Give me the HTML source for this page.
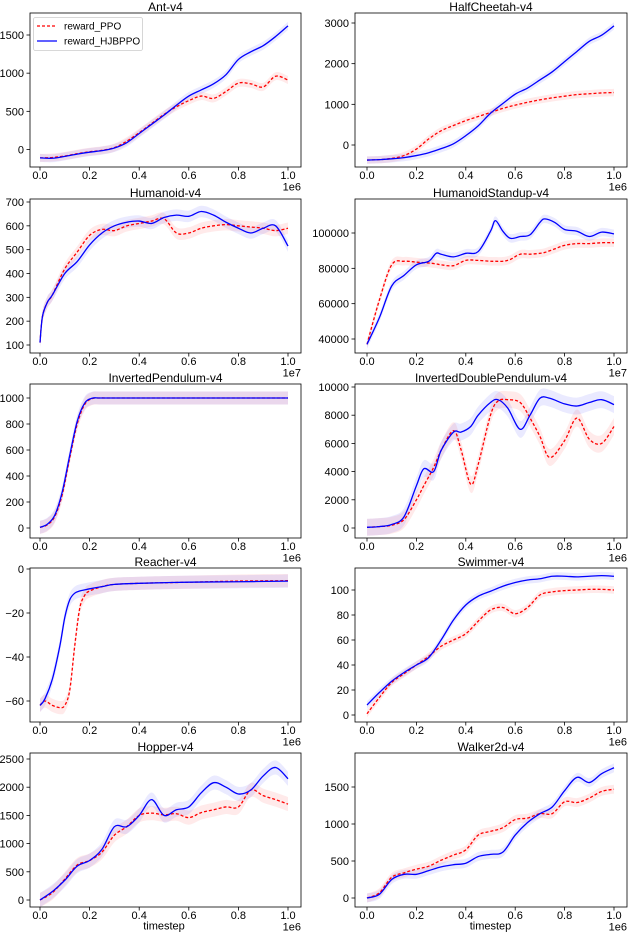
<!DOCTYPE html>
<html><head><meta charset="utf-8">
<style>
html,body{margin:0;padding:0;background:#fff;}
svg{display:block;font-family:"Liberation Sans","DejaVu Sans",sans-serif;}
</style></head>
<body>
<svg id="fig" width="628" height="932" viewBox="0 0 628 932" xmlns="http://www.w3.org/2000/svg"></svg>
<script>
// ---- data ----
const titles = ["Ant-v4","HalfCheetah-v4","Humanoid-v4","HumanoidStandup-v4","InvertedPendulum-v4","InvertedDoublePendulum-v4","Reacher-v4","Swimmer-v4","Hopper-v4","Walker2d-v4"];
const xStd = [0,.05,.1,.15,.2,.25,.3,.35,.4,.45,.5,.55,.6,.65,.7,.75,.8,.85,.9,.95,1];
const xHum = [0,.01,.03,.05,.1,.15,.2,.25,.3,.35,.4,.45,.5,.55,.6,.65,.7,.75,.8,.85,.9,.95,1];
const xStand = [0,.05,.1,.15,.2,.25,.28,.3,.35,.4,.45,.5,.52,.55,.58,.62,.66,.7,.72,.76,.8,.85,.9,.95,1];
const xIP = [0,.03,.06,.09,.12,.15,.18,.21,.24,.3,.5,.7,1];
const xIDP = [0,.05,.1,.15,.2,.23,.27,.3,.35,.38,.42,.45,.5,.53,.57,.62,.66,.7,.74,.8,.85,.9,.95,1];
const xReach = [0,.02,.05,.08,.1,.12,.14,.16,.18,.2,.25,.3,.4,.6,.8,1];

const antPPO = [-110,-105,-85,-55,-30,-10,25,110,220,340,460,560,640,700,670,760,870,860,820,960,910];
const antHJB = [-110,-115,-90,-60,-35,-15,20,90,210,330,450,580,700,780,860,980,1180,1280,1360,1480,1620];
const hcPPO = [-370,-360,-330,-260,-100,150,350,480,600,700,800,900,980,1050,1110,1160,1200,1240,1260,1280,1290];
const hcHJB = [-370,-360,-340,-310,-260,-190,-90,30,230,470,780,1020,1250,1400,1600,1800,2050,2300,2550,2700,2930];
const humPPO = [110,220,280,310,420,490,560,585,580,600,610,620,630,570,570,590,600,605,600,595,590,580,590];
const humHJB = [110,220,280,310,400,450,520,570,600,615,620,610,635,645,640,660,645,615,590,570,590,600,515];
const stPPO = [37000,62000,82000,84000,83500,83000,82500,82000,81500,84500,84500,84000,84000,84000,85000,88000,88000,88500,89000,91000,93000,94000,94000,94500,94500];
const stHJB = [37000,52000,70000,76000,82000,84000,88500,88000,86500,88500,89500,101000,107000,101000,97000,98000,99000,106000,108000,106000,102000,101000,98000,100500,99500];
const ipPPO = [5,25,90,260,540,800,950,995,1000,1000,1000,1000,1000];
const ipHJB = [5,30,100,280,560,820,960,998,1000,1000,1000,1000,1000];
const idpPPO = [50,100,200,600,2000,3000,4300,5500,6900,5600,3100,4500,8000,9000,9100,8900,7800,6500,5000,6200,7800,6300,6000,7200];
const idpHJB = [50,100,250,800,3000,4200,4000,5500,6800,6800,7200,8000,8900,9100,8500,7000,8000,9200,9200,8800,8650,8900,9100,8750];
const rePPO = [-62,-60,-62,-63,-62,-55,-35,-18,-12,-10,-8,-7,-6.5,-6,-5.5,-5.3];
const reHJB = [-62,-59,-50,-35,-22,-14,-11,-10,-9.5,-9,-8,-7,-6.5,-6,-5.8,-5.5];
const swPPO = [1,14,26,33,40,47,55,60,65,75,84,86,81,86,96,98.5,99.5,100,100.5,100.5,100];
const swHJB = [8,18,27,34,40,46,60,76,88,95,99,103,106,108,109,111,111,110.5,111,111.5,111];
const hoPPO = [0,130,370,620,700,850,1150,1300,1500,1540,1510,1530,1460,1550,1600,1650,1650,1950,1850,1780,1700];
const hoHJB = [0,150,350,600,700,900,1300,1300,1500,1780,1500,1600,1650,1900,2080,2000,1880,1950,2200,2350,2150];
const waPPO = [0,70,280,340,390,430,510,580,650,850,900,950,1060,1080,1140,1140,1300,1290,1350,1440,1470];
const waHJB = [0,50,250,320,320,370,420,450,470,560,590,620,850,1020,1140,1230,1450,1630,1560,1680,1760];

const yTicks = [[0,500,1000,1500],[0,1000,2000,3000],[100,200,300,400,500,600,700],[40000,60000,80000,100000],[0,200,400,600,800,1000],[0,2000,4000,6000,8000,10000],[-60,-40,-20,0],[0,20,40,60,80,100],[0,500,1000,1500,2000,2500],[0,500,1000,1500]];
const xTicks = [0,0.2,0.4,0.6,0.8,1.0];
const xTickLabels = ["0.0","0.2","0.4","0.6","0.8","1.0"];
const offsets = ["1e6","1e6","1e7","1e7","1e6","1e6","1e6","1e6","1e6","1e6"];
const xs = [xStd,xStd,xHum,xStand,xIP,xIDP,xReach,xStd,xStd,xStd];
const ppo = [antPPO,hcPPO,humPPO,stPPO,ipPPO,idpPPO,rePPO,swPPO,hoPPO,waPPO];
const hjb = [antHJB,hcHJB,humHJB,stHJB,ipHJB,idpHJB,reHJB,swHJB,hoHJB,waHJB];

// ---- layout (pixel geometry, not data) ----
const tops=[13,199,384,568,753];
const yRef=[[0,149.5,1500,35],[0,145,3000,23],[100,345,700,202],[40000,339,100000,233],[0,528,1000,398],[0,528,10000,387],[0,569,-60,701],[0,715,100,590],[0,900,2500,759],[0,898,1500,787]];
const bandFrac=[0.035,0.03,0.04,0.04,0.05,0.06,0.05,0.03,0.05,0.04];

const NS="http://www.w3.org/2000/svg";
const svg=document.getElementById('fig');
function mk(tag,attrs,parent){const e=document.createElementNS(NS,tag);for(const k in attrs)e.setAttribute(k,attrs[k]);(parent||svg).appendChild(e);return e;}
function smooth(pts){
  let d="M"+pts[0][0].toFixed(2)+","+pts[0][1].toFixed(2);
  for(let i=0;i<pts.length-1;i++){
    const p0=pts[Math.max(i-1,0)],p1=pts[i],p2=pts[i+1],p3=pts[Math.min(i+2,pts.length-1)];
    const c1=[p1[0]+(p2[0]-p0[0])/6,p1[1]+(p2[1]-p0[1])/6];
    const c2=[p2[0]-(p3[0]-p1[0])/6,p2[1]-(p3[1]-p1[1])/6];
    d+="C"+c1[0].toFixed(2)+","+c1[1].toFixed(2)+" "+c2[0].toFixed(2)+","+c2[1].toFixed(2)+" "+p2[0].toFixed(2)+","+p2[1].toFixed(2);
  }
  return d;
}
function smoothCont(pts){return smooth(pts).replace(/^M/,"L");}

for(let i=0;i<10;i++){
  const col=i%2,row=Math.floor(i/2);
  const L=col?355:30,R=col?627:301,T=tops[row],B=T+154;
  const X0=col?367:40,X1=col?614:288;
  const r=yRef[i];
  const xf=v=>X0+(X1-X0)*v;
  const yf=v=>r[1]+(v-r[0])*(r[3]-r[1])/(r[2]-r[0]);
  const g=mk('g',{});
  
  
  const cid='clip'+i;
  const cp=mk('clipPath',{id:cid},g);mk('rect',{x:L,y:T,width:R-L,height:B-T},cp);
  const yt=yTicks[i];
  const span=Math.abs(yt[yt.length-1]-yt[0]);
  const spread=span*bandFrac[i];
  const series=[[ppo[i],'rgba(255,90,90,0.13)','#ff0000','3,2','ppo'],[hjb[i],'rgba(90,90,255,0.13)','#0000ff','', 'hjbppo']];
  const pg=mk('g',{'clip-path':'url(#'+cid+')'},g);
  series.forEach(s=>{
    const up=xs[i].map((x,k)=>[xf(x),yf(s[0][k]+spread)]);
    const dn=xs[i].map((x,k)=>[xf(x),yf(s[0][k]-spread)]).reverse();
    const band=mk('path',{d:smooth(up)+smoothCont(dn)+"Z",fill:s[1],stroke:'none'},pg);
    
    
  });
  series.forEach(s=>{
    const pts=xs[i].map((x,k)=>[xf(x),yf(s[0][k])]);
    const a={d:smooth(pts),fill:'none',stroke:s[2],'stroke-width':1.3};
    if(s[3])a['stroke-dasharray']=s[3];
    const ln=mk('path',a,pg);
    
    
  });
  const fr=mk('rect',{x:L,y:T,width:R-L,height:B-T,fill:'none',stroke:'#000','stroke-width':0.8},g);
  
  
  const tt=mk('text',{x:(L+R)/2,y:T-2,'text-anchor':'middle','font-size':12,fill:'#000'},g);
  tt.textContent=titles[i];
  
  
  yt.forEach(v=>{
    const y=yf(v);
    mk('line',{x1:L-3.5,x2:L,y1:y,y2:y,stroke:'#000','stroke-width':0.8},g);
    const t=mk('text',{x:L-6,y:y+4,'text-anchor':'end','font-size':11},g);
    t.textContent=String(v).replace('-','\u2212');
    
    
  });
  xTicks.forEach((v,k)=>{
    const x=xf(v);
    mk('line',{x1:x,x2:x,y1:B,y2:B+3.5,stroke:'#000','stroke-width':0.8},g);
    const t=mk('text',{x:x,y:B+12,'text-anchor':'middle','font-size':11},g);
    t.textContent=xTickLabels[k];
    
    
  });
  const off=mk('text',{x:R,y:B+23.5,'text-anchor':'end','font-size':11},g);
  off.textContent=offsets[i];
  
  
  if(row===4){
    const xl=mk('text',{x:(X0+X1)/2,y:B+22.5,'text-anchor':'middle','font-size':11},g);
    xl.textContent='timestep';
    
    
  }
  if(i===0){
    const lg=mk('g',{},g);
    
    
    mk('rect',{x:33.5,y:17.5,width:109,height:33,rx:2,fill:'rgba(255,255,255,0.8)',stroke:'#ccc','stroke-width':0.8},lg);
    mk('line',{x1:37,x2:57,y1:26,y2:26,stroke:'#ff0000','stroke-width':1.3,'stroke-dasharray':'3,2'},lg);
    mk('line',{x1:37,x2:57,y1:41,y2:41,stroke:'#0000ff','stroke-width':1.3},lg);
    const t1=mk('text',{x:64,y:29.5,'font-size':10},lg);t1.textContent='reward_PPO';
    
    
    const t2=mk('text',{x:64,y:44.5,'font-size':10},lg);t2.textContent='reward_HJBPPO';
    
    
  }
}
</script>
</body></html>
